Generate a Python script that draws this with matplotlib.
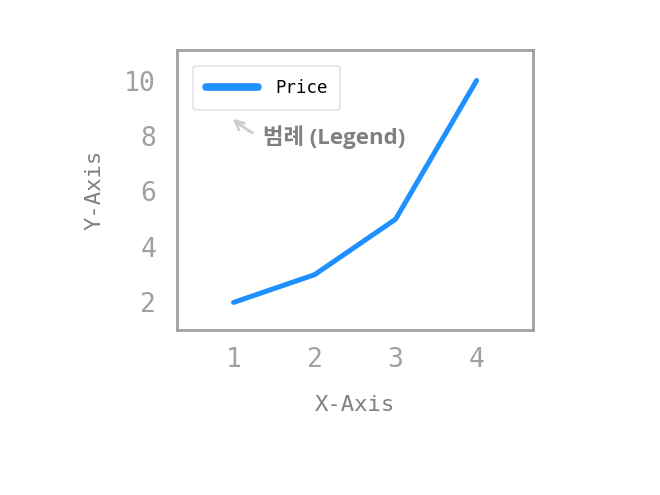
import matplotlib
matplotlib.use("Agg")
import matplotlib.pyplot as plt

# data
x_vals = [1, 2, 3, 4]
price = [2, 3, 5, 10]
x_ticks = [1, 2, 3, 4]
y_ticks = [2, 4, 6, 8, 10]

plt.rcParams['font.family'] = ['DejaVu Sans Mono']

fig = plt.figure(figsize=(6.6, 4.95), dpi=100)
ax = fig.add_axes([0.268, 0.333, 0.54, 0.566])

ax.plot(x_vals, price, color="#1e90ff", linewidth=3.6, label="Price",
        solid_capstyle="round")

ax.set_xlim(0.3, 4.7)
ax.set_ylim(1.0, 11.1)
ax.set_xticks(x_ticks)
ax.set_yticks(y_ticks)
ax.tick_params(length=0, labelsize=19, labelcolor="#a0a0a0")
ax.tick_params(axis="x", pad=12)
ax.tick_params(axis="y", pad=15)
for sp in ax.spines.values():
    sp.set_color("#a0a0a0")
    sp.set_linewidth(2)

ax.set_xlabel("X-Axis", fontsize=16, color="#808080", labelpad=16)
ax.set_ylabel("Y-Axis", fontsize=16, color="#808080", labelpad=14)

leg = ax.legend(loc="upper left", fontsize=12.5, frameon=True, fancybox=True,
                edgecolor="#dddddd", handlelength=3.0, handletextpad=1.0,
                borderpad=0.75, borderaxespad=0.9)
leg.get_frame().set_linewidth(1.2)
for h in leg.get_lines():
    h.set_linewidth(5.5)
    h.set_solid_capstyle("round")

ax.annotate("범례 (Legend)", xy=(0.99, 8.62), xytext=(1.36, 7.97),
            fontsize=16, fontweight="bold", color="#808080",
            family=["Open Sans", "Noto Sans CJK KR", "DejaVu Sans"],
            va="center", ha="left",
            arrowprops=dict(arrowstyle="->", color="#cccccc", lw=2,
                            connectionstyle="arc3,rad=-0.3",
                            shrinkA=6, shrinkB=0))

fig.savefig("out.png", dpi=100)
